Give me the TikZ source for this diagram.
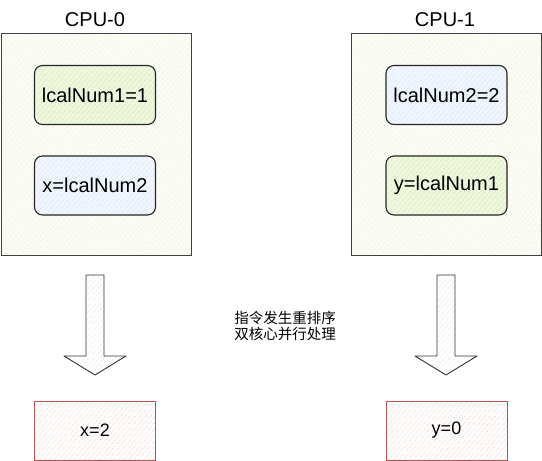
\documentclass[tikz,border=0pt]{standalone}
\usepackage{fontspec}
\setmainfont{Liberation Sans}
\newfontfamily\cjkfont{Noto Sans CJK SC}
\usetikzlibrary{positioning,calc,patterns.meta}
\definecolor{cpubg}{HTML}{FCFCF6}
\definecolor{cpuhatch}{HTML}{EAEDD6}
\definecolor{greenbg}{HTML}{EFF7DF}
\definecolor{greenhatch}{HTML}{C5E29A}
\definecolor{bluebg}{HTML}{F1F6FD}
\definecolor{bluehatch}{HTML}{CCDEF5}
\definecolor{redline}{HTML}{B85450}
\definecolor{redhatch}{HTML}{F3BDBA}
\tikzset{
  hatch/.style 2 args = {preaction={fill=#1},
                         pattern={Lines[angle=50,distance=4pt,line width=0.8pt]},
                         pattern color=#2},
  cpubox/.style   = {draw=black!75, line width=0.9pt, hatch={cpubg}{cpuhatch},
                     minimum width=190pt, minimum height=222pt},
  varbox/.style   = {draw=black!85, line width=1.1pt, rounded corners=8pt,
                     minimum width=121pt, minimum height=59pt,
                     font=\fontsize{20}{24}\selectfont},
  resbox/.style   = {draw=redline, line width=0.9pt, hatch={white}{redhatch},
                     minimum width=121pt, minimum height=59pt,
                     font=\fontsize{18}{22}\selectfont},
  title/.style    = {font=\fontsize{20}{24}\selectfont},
  bigarrow/.style = {draw=black!80, line width=0.9pt, line join=round,
                     hatch={white}{black!14}},
}

\begin{document}
\begin{tikzpicture}[x=1pt,y=-1pt]
\useasboundingbox (0,0) rectangle (542,461);
% CPU-0
\node[title] (cpu0lbl) at (95,20) {CPU-0};
\node[cpubox] (cpu0) at (96.5,144.5) {};
\node[varbox,hatch={greenbg}{greenhatch}] (lcal1) at (95,95) {lcalNum1=1};
\node[varbox,hatch={bluebg}{bluehatch}] (xassign) at (95,185.5) {x=lcalNum2};
% CPU-1
\node[title] (cpu1lbl) at (445,20) {CPU-1};
\node[cpubox] (cpu1) at (446,144.5) {};
\node[varbox,hatch={bluebg}{bluehatch}] (lcal2) at (446.5,95) {lcalNum2=2};
\node[varbox,hatch={greenbg}{greenhatch}] (yassign) at (446.5,185.5) {y=lcalNum1};
% results
\node[resbox] (xres) at (95,430.5) {x=2};
\node[resbox] (yres) at (446.5,430.5) {y=0};
% block arrows
\foreach \ax in {95,446}{
  \draw[bigarrow] (\ax-9,275) -- (\ax+9,275) -- (\ax+9,356) -- (\ax+31,356)
    -- (\ax,375) -- (\ax-31,356) -- (\ax-9,356) -- cycle;}
\node[font=\cjkfont\fontsize{14.5}{16.5}\selectfont,align=left] (note) at (285,326)
  {指令发生重排序\\双核心并行处理};
\end{tikzpicture}
\end{document}
